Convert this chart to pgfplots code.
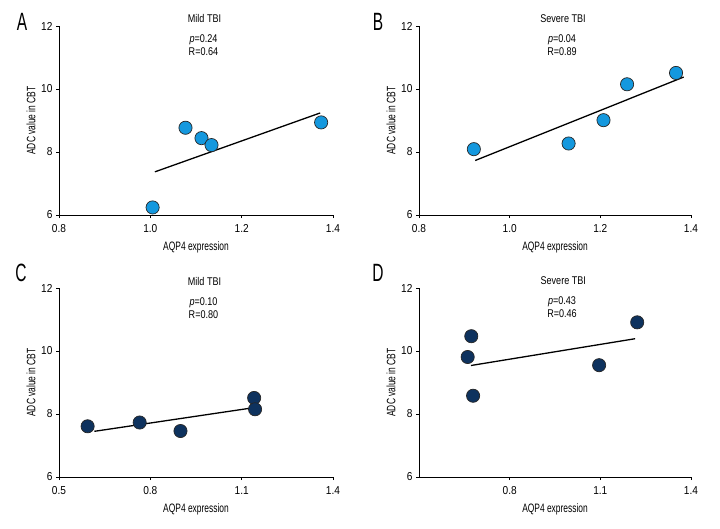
\documentclass[border=0pt]{standalone}
\usepackage{pgfplots}
\pgfplotsset{compat=1.18}
\usepackage{fontspec}
\setmainfont[FakeStretch=0.8]{Liberation Sans}
\newfontfamily\letterfont[FakeStretch=0.62]{Liberation Sans}
\newfontfamily\tickfont[FakeStretch=0.88]{Liberation Sans}
\newfontfamily\labfont[FakeStretch=0.69]{Liberation Sans}
\newfontfamily\titfont[FakeStretch=0.81]{Liberation Sans}
\definecolor{lblue}{RGB}{20,152,222}
\definecolor{navy}{RGB}{14,50,94}
\pgfplotsset{
  panel/.style={
    anchor=south west, scale only axis, clip=false,
    axis x line*=bottom, axis y line*=left,
    ymin=6, ymax=12, ytick={6,8,10,12},
    tick align=outside, major tick length=3pt,
    tick style={black, line width=0.6pt},
    axis line style={black, line width=0.6pt},
    /pgf/number format/assume math mode=true,
    xticklabel style={font=\tickfont\fontsize{11.5}{12}\selectfont, yshift=-3pt, /pgf/number format/fixed, /pgf/number format/fixed zerofill, /pgf/number format/precision=1},
    yticklabel style={font=\tickfont\fontsize{11.5}{12}\selectfont},
    xlabel={AQP4 expression}, ylabel={ADC value in CBT},
    xlabel style={font=\labfont\fontsize{12.2}{13}\selectfont, at={(axis description cs:0.5,0)}, anchor=center, yshift=-32pt},
    ylabel style={font=\labfont\fontsize{12.2}{13}\selectfont, at={(axis description cs:0,0.5)}, anchor=center, yshift=28pt},
  },
  dots/.style={only marks, mark=*, mark size=6.6pt, mark options={draw=black!85, line width=0.7pt, fill=#1}},
  fit/.style={black, line width=1.3pt, no marks},
}
\begin{document}
\begin{tikzpicture}[x=1pt,y=1pt]
\useasboundingbox (0,0) rectangle (720,528);
% A
\begin{axis}[panel, at={(59pt,313pt)}, width=274pt, height=189pt, xmin=0.8, xmax=1.4, xtick={0.8,1.0,1.2,1.4}]
\addplot[fit] coordinates {(1.010,7.37) (1.372,9.24)};
\addplot[dots=lblue] coordinates {(1.005,6.24) (1.077,8.77) (1.112,8.44) (1.134,8.22) (1.374,8.94)};
\end{axis}
% B
\begin{axis}[panel, at={(419pt,313pt)}, width=272pt, height=189pt, xmin=0.8, xmax=1.4, xtick={0.8,1.0,1.2,1.4}]
\addplot[fit] coordinates {(0.924,7.73) (1.384,10.38)};
\addplot[dots=lblue] coordinates {(0.921,8.09) (1.130,8.27) (1.207,9.01) (1.259,10.15) (1.367,10.51)};
\end{axis}
% C
\begin{axis}[panel, at={(59pt,51pt)}, width=274pt, height=189pt, xmin=0.5, xmax=1.4, xtick={0.5,0.8,1.1,1.4}]
\addplot[fit] coordinates {(0.616,7.45) (1.139,8.20)};
\addplot[dots=navy] coordinates {(0.594,7.61) (0.765,7.73) (0.899,7.46) (1.141,8.51) (1.144,8.15)};
\end{axis}
% D
\begin{axis}[panel, at={(419pt,51pt)}, width=272pt, height=189pt, xmin=0.5, xmax=1.4, xtick={0.8,1.1,1.4}]
\addplot[fit] coordinates {(0.672,9.54) (1.215,10.39)};
\addplot[dots=navy] coordinates {(0.673,10.47) (0.661,9.81) (0.679,8.58) (1.096,9.55) (1.222,10.91)};
\end{axis}
% panel letters
\node[font=\letterfont\fontsize{25}{28}\selectfont] at (22,506) {A};
\node[font=\letterfont\fontsize{25}{28}\selectfont] at (378,506) {B};
\node[font=\letterfont\fontsize{25}{28}\selectfont] at (21,255) {C};
\node[font=\letterfont\fontsize{25}{28}\selectfont] at (378,255) {D};
% titles
\begin{scope}[every node/.style={font=\titfont\fontsize{11.2}{12}\selectfont}]
\node at (204.5,509) {Mild TBI};
\node at (203.5,488) {\textit{p}=0.24};
\node at (203.5,476) {R=0.64};
\node at (563,509) {Severe TBI};
\node at (562,488) {\textit{p}=0.04};
\node at (562,476) {R=0.89};
\node at (204.5,246.7) {Mild TBI};
\node at (203.5,225.3) {\textit{p}=0.10};
\node at (203.5,213.3) {R=0.80};
\node at (563.3,247) {Severe TBI};
\node at (562,226.3) {\textit{p}=0.43};
\node at (562,214) {R=0.46};
\end{scope}
\end{tikzpicture}
\end{document}
